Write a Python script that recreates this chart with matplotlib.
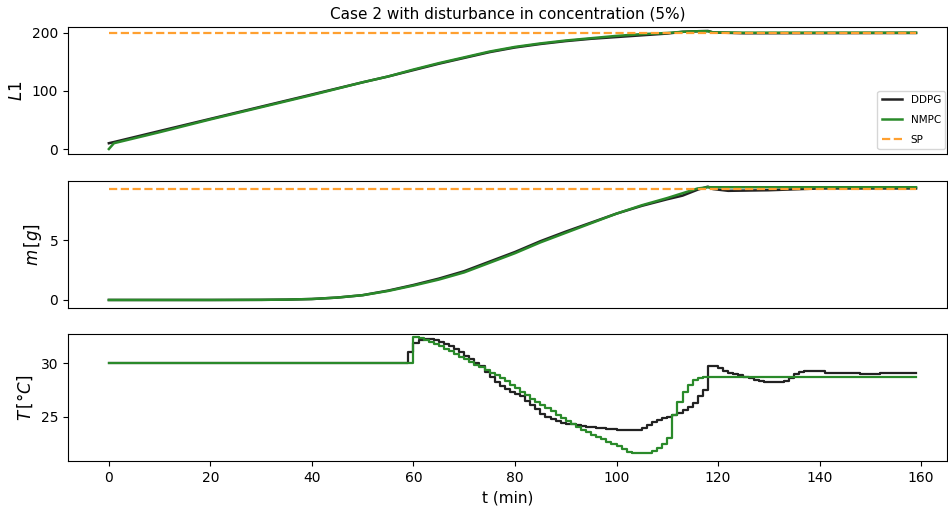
import numpy as np
import matplotlib
matplotlib.use("Agg")
import matplotlib.pyplot as plt

# ---------------- data ----------------
# level L1
t_L1 = [0, 1, 10, 20, 30, 40, 50, 55, 60, 65, 70, 75, 80, 85, 90, 95, 100, 105, 110, 113, 116, 118, 119, 125, 159]
L1_nmpc = [0, 10, 29, 51, 72, 93, 115, 125, 137, 148, 158, 168, 176, 182, 187, 191, 195, 198, 200, 202, 203, 203, 201, 200.5, 200.5]
L1_ddpg = [10, 12, 31, 52, 73, 94, 115, 125, 136, 147, 157, 167, 175, 181, 186, 190, 193, 196, 199, 202, 203, 203.5, 201, 199.5, 200]
L1_sp = 200

# mass m
t_m = [0, 10, 20, 30, 35, 40, 45, 50, 55, 60, 65, 70, 75, 80, 85, 90, 95, 100, 105, 110, 113, 116, 118, 119, 122, 130, 140, 159]
m_nmpc = [0, 0, 0, 0.01, 0.03, 0.08, 0.2, 0.4, 0.75, 1.2, 1.7, 2.3, 3.1, 3.9, 4.8, 5.6, 6.4, 7.2, 7.9, 8.5, 8.9, 9.3, 9.4, 9.4, 9.4, 9.4, 9.4, 9.4]
m_ddpg = [0, 0, 0, 0.01, 0.03, 0.08, 0.2, 0.4, 0.78, 1.25, 1.78, 2.4, 3.2, 4.0, 4.9, 5.7, 6.45, 7.2, 7.85, 8.4, 8.7, 9.2, 9.45, 9.25, 9.1, 9.15, 9.3, 9.3]
m_sp = 9.25

# temperature T (one value per minute, 0..159)
t_T = list(range(160))
T_ddpg = ([30.0] * 59 +
          [31.0, 31.9, 32.1, 32.2, 32.2, 32.1, 32.0, 31.8, 31.6, 31.35,
           31.05, 30.7, 30.35, 30.0, 29.7, 29.2, 28.7, 28.2, 27.85, 27.55,
           27.3, 27.1, 26.9, 26.5, 26.1, 25.7, 25.3, 25.0, 24.8, 24.6,
           24.45, 24.35, 24.3, 24.2, 24.15, 24.1, 24.05, 24.0, 23.95, 23.9,
           23.85, 23.8, 23.8, 23.8, 23.8, 23.8, 24.0, 24.25, 24.5, 24.7,
           24.85, 25.0, 25.15, 25.35, 25.6, 25.9, 26.3, 26.9, 27.5, 29.7,
           29.7, 29.5, 29.3, 29.1, 28.95, 28.85, 28.7, 28.6, 28.45, 28.35,
           28.25, 28.2, 28.2, 28.2, 28.3, 28.6, 29.0, 29.2, 29.3, 29.3,
           29.3, 29.3, 29.1, 29.1, 29.1, 29.1, 29.1, 29.1, 29.1, 28.95,
           28.95, 28.95, 28.95, 29.1, 29.1, 29.1, 29.1, 29.1, 29.1, 29.1,
           29.1])
T_nmpc = ([30.0] * 60 +
          [32.45, 32.3, 32.15, 32.0, 31.8, 31.6, 31.35, 31.1, 30.85, 30.6,
           30.35, 30.1, 29.85, 29.6, 29.35, 29.1, 28.85, 28.6, 28.3, 28.0,
           27.65, 27.3, 27.0, 26.7, 26.4, 26.1, 25.8, 25.5, 25.2, 24.9,
           24.6, 24.3, 24.05, 23.8, 23.55, 23.3, 23.1, 22.9, 22.7, 22.5,
           22.25, 22.0, 21.75, 21.6, 21.6, 21.6, 21.6, 21.8, 22.1, 22.5,
           23.0, 25.2, 26.4, 27.3, 28.0, 28.4, 28.6, 28.75, 28.75, 28.75,
           28.75, 28.75, 28.75, 28.75, 28.75, 28.75, 28.75, 28.75, 28.75, 28.7,
           28.7, 28.7, 28.7, 28.7, 28.7, 28.7, 28.7, 28.7, 28.7, 28.7,
           28.7, 28.7, 28.7, 28.7, 28.7, 28.7, 28.7, 28.7, 28.7, 28.7,
           28.7, 28.7, 28.7, 28.7, 28.7, 28.7, 28.7, 28.7, 28.7, 28.7])

# ---------------- figure ----------------
fig = plt.figure(figsize=(9.48, 5.08), dpi=100)
W, H = 948, 508
def pos(x0, y0, x1, y1):
    return [x0 / W, 1 - y1 / H, (x1 - x0) / W, (y1 - y0) / H]

ax1 = fig.add_axes(pos(68, 27, 947, 154))
ax2 = fig.add_axes(pos(68, 181, 947, 308), sharex=ax1)
ax3 = fig.add_axes(pos(68, 334, 947, 461), sharex=ax1)

c_ddpg = '#222222'
c_nmpc = '#2a8a2a'
c_sp = '#ffa030'
lw = 1.8

ax1.plot(t_L1, L1_ddpg, color=c_ddpg, lw=lw, label='DDPG')
ax1.plot(t_L1, L1_nmpc, color=c_nmpc, lw=lw, label='NMPC')
ax1.plot([t_T[0], t_T[-1]], [L1_sp, L1_sp], color=c_sp, lw=1.6, ls='--', label='SP')
ax1.set_ylabel('$L1$', fontsize=12)
ax1.set_title('Case 2 with disturbance in concentration (5%)', fontsize=11)
ax1.legend(loc='lower right', fontsize=7.5, handlelength=2.0, labelspacing=0.95,
           bbox_to_anchor=(1.004, 0.0))

ax2.plot(t_m, m_ddpg, color=c_ddpg, lw=lw)
ax2.plot(t_m, m_nmpc, color=c_nmpc, lw=lw)
ax2.plot([t_T[0], t_T[-1]], [m_sp, m_sp], color=c_sp, lw=1.6, ls='--')
ax2.set_ylabel(r'$m\,[g]$', fontsize=12)

ax3.plot(t_T, T_ddpg, color=c_ddpg, lw=1.6, drawstyle='steps-post')
ax3.plot(t_T, T_nmpc, color=c_nmpc, lw=1.6, drawstyle='steps-post')
ax3.set_ylabel(r'$T\,[°C]$', fontsize=12)
ax3.set_xlabel('t (min)', fontsize=11)

for ax in (ax1, ax2):
    ax.tick_params(axis='x', bottom=False, labelbottom=False)
ax1.set_yticks([0, 100, 200])
ax2.set_yticks([0, 5])
ax3.set_yticks([25, 30])
ax3.set_xticks([0, 20, 40, 60, 80, 100, 120, 140, 160])
ax3.set_xlim(-8.05, 165.1)
ax1.set_ylim(-8.6, 210.3)
ax2.set_ylim(-0.67, 9.92)
ax3.set_ylim(20.9, 32.7)

fig.savefig('out.png', dpi=100)
